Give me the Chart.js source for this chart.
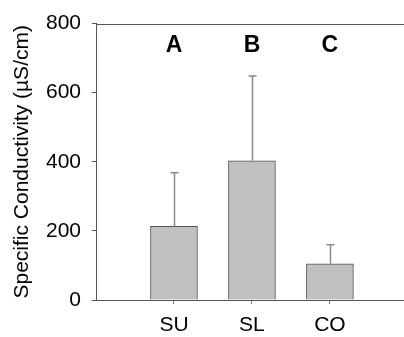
<!DOCTYPE html>
<html>
<head>
<meta charset="utf-8">
<script src="https://cdn.jsdelivr.net/npm/chart.js@4"></script>
<style>
  html, body { margin: 0; padding: 0; background: #fff; }
  #wrap { width: 404px; height: 337px; }
</style>
</head>
<body>
<div id="wrap"><canvas id="cond-chart"></canvas></div>
<script>
// Values
const sites = ["SU", "SL", "CO"];
const meanCond = [213, 403, 105];
const sdCond = [155, 245, 55];
const groupLetters = ["A", "B", "C"];
const yTicks = [0, 200, 400, 600, 800];

const FONT = "'Liberation Sans', Arial, sans-serif";

// upper-only error bars + the group letters + the top frame line
const extras = {
  id: "extras",
  afterDatasetsDraw(chart) {
    const { ctx, chartArea } = chart;
    const x = chart.scales.x;
    const y = chart.scales.y;
    ctx.save();
    ctx.strokeStyle = "#8a8a8a";
    ctx.lineWidth = 1.5;
    meanCond.forEach((m, i) => {
      const px = Math.round(x.getPixelForValue(i + 1)) + 0.5;
      const y0 = y.getPixelForValue(m);
      const y1 = y.getPixelForValue(m + sdCond[i]);
      ctx.beginPath();
      ctx.moveTo(px, y0);
      ctx.lineTo(px, y1);
      ctx.moveTo(px - 4, y1);
      ctx.lineTo(px + 4, y1);
      ctx.stroke();
    });

    ctx.fillStyle = "#000";
    ctx.font = "bold 23px " + FONT;
    ctx.textAlign = "center";
    ctx.textBaseline = "middle";
    groupLetters.forEach((t, i) => {
      ctx.fillText(t, x.getPixelForValue(i + 1), y.getPixelForValue(735));
    });

    ctx.strokeStyle = "#555";
    ctx.lineWidth = 1;
    ctx.beginPath();
    ctx.moveTo(chartArea.left, Math.round(chartArea.top) + 0.5);
    ctx.lineTo(chartArea.right, Math.round(chartArea.top) + 0.5);
    ctx.stroke();
    ctx.restore();
  },
};

new Chart(document.getElementById("cond-chart"), {
  type: "bar",
  data: {
    datasets: [
      {
        data: sites.map((_, i) => ({ x: i + 1, y: meanCond[i] })),
        backgroundColor: "#c0c0c0",
        borderColor: "#555",
        borderWidth: 1,
        barThickness: 47,
      },
    ],
  },
  options: {
    responsive: true,
    maintainAspectRatio: false,
    animation: false,
    layout: { padding: { top: 21, right: 0, left: 0, bottom: 0 } },
    plugins: { legend: { display: false }, tooltip: { enabled: false } },
    scales: {
      x: {
        type: "linear",
        offset: false,
        min: 0,
        max: 3.95,
        afterBuildTicks: (s) => {
          s.ticks = sites.map((_, i) => ({ value: i + 1 }));
        },
        afterFit: (s) => {
          s.height = 37;
        },
        ticks: {
          callback: (v) => sites[v - 1] || "",
          color: "#000",
          font: { family: FONT, size: 21 },
          padding: 9,
          maxRotation: 0,
          autoSkip: false,
        },
        grid: { offset: false, drawOnChartArea: false, tickLength: 4, color: "#777" },
        border: { color: "#555" },
      },
      y: {
        min: 0,
        max: 800,
        afterBuildTicks: (s) => {
          s.ticks = yTicks.map((v) => ({ value: v }));
        },
        afterFit: (s) => {
          s.width = 96;
        },
        ticks: {
          color: "#000",
          font: { family: FONT, size: 21 },
          padding: 11,
        },
        grid: { drawOnChartArea: false, tickLength: 4, color: "#555" },
        border: { color: "#555" },
        title: {
          display: true,
          text: "Specific Conductivity (µS/cm)",
          color: "#000",
          font: { family: FONT, size: 21 },
          padding: { top: 10, bottom: 0 },
        },
      },
    },
  },
  plugins: [extras],
});
</script>
</body>
</html>
